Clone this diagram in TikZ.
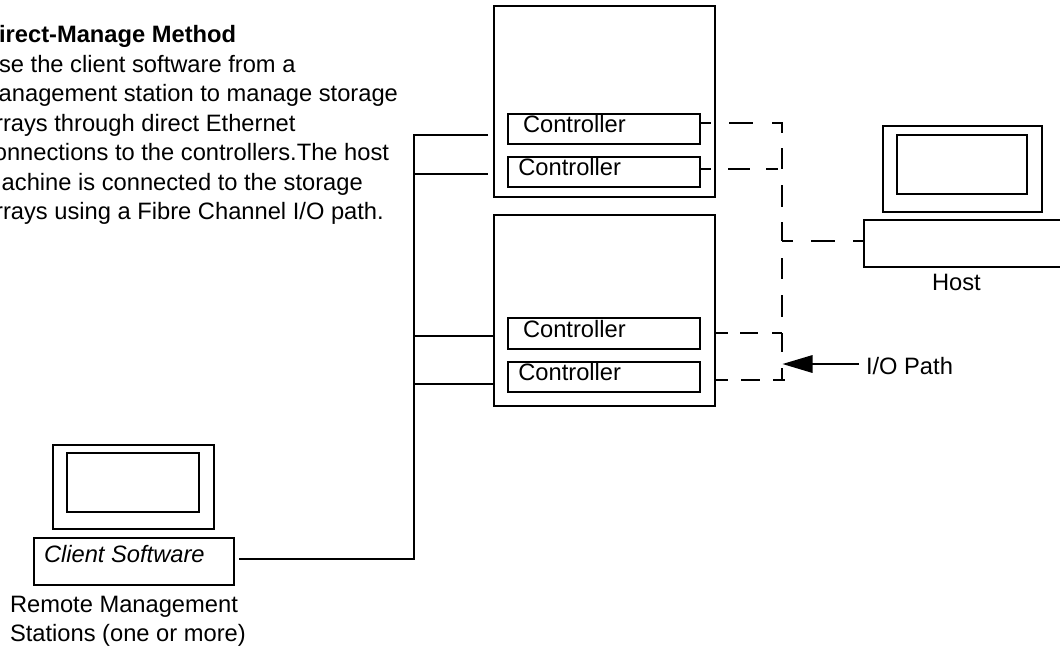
\documentclass[tikz,border=0pt]{standalone}
\usepackage{fontspec}
\setmainfont{Liberation Sans}
\usetikzlibrary{arrows.meta}
\tikzset{
  box/.style={draw=black,line width=1.7pt,inner sep=0pt,outer sep=0pt,fill=none},
  txt/.style={inner sep=0pt,outer sep=0pt,anchor=base west,font=\fontsize{23.7}{29.5}\selectfont,text=black},
  wire/.style={draw=black,line width=1.7pt},
  dashwire/.style={draw=black,line width=1.7pt}
}
\begin{document}
\begin{tikzpicture}[x=1pt,y=-1pt]
\useasboundingbox (0,0) rectangle (1060,651);
% storage arrays
\node[box,minimum width=221pt,minimum height=191pt] (arrayA) at (604.5,101.5) {};
\node[box,minimum width=221pt,minimum height=191pt] (arrayB) at (604.5,310.5) {};
% controllers
\node[box,minimum width=192pt,minimum height=30pt] (ctlA) at (604,129) {};
\node[box,minimum width=192pt,minimum height=30pt] (ctlB) at (604,172) {};
\node[box,minimum width=192pt,minimum height=31pt] (ctlC) at (604,333.5) {};
\node[box,minimum width=192pt,minimum height=30pt] (ctlD) at (604,377) {};
\node[txt] (ctlAt) at (523,132.7) {Controller};
\node[txt] (ctlBt) at (518.3,175.7) {Controller};
\node[txt] (ctlCt) at (523,337) {Controller};
\node[txt] (ctlDt) at (518.3,380.7) {Controller};
% client
\node[box,minimum width=161pt,minimum height=84pt] (cmon) at (133.5,487) {};
\node[box,minimum width=132pt,minimum height=59pt] (cscr) at (133,482.5) {};
\node[box,minimum width=200pt,minimum height=47pt] (cbase) at (134,561.5) {};
\node[txt,font=\fontsize{23.7}{29.5}\selectfont\itshape] (csw) at (44,562) {Client Software};
\node[txt] (rm1) at (10,612.7) {Remote Management};
\node[txt] (rm2) at (10,641) {Stations (one or more)};
% host
\node[box,minimum width=159pt,minimum height=86pt] (hmon) at (962.5,169) {};
\node[box,minimum width=130pt,minimum height=59pt] (hscr) at (962,164.5) {};
\node[box,minimum width=200pt,minimum height=47pt] (hbase) at (964,243.5) {};
\node[txt] (hostl) at (932,290.7) {Host};
\node[txt] (iop) at (866,374) {I/O Path};
% title text
\node[txt,align=left,anchor=north west] (desc) at (-18,25.5) {\textbf{Direct-Manage Method}\\Use the client software from a\\\hspace*{-3pt}management station to manage storage\\arrays through direct Ethernet\\connections to the controllers.The host\\machine is connected to the storage\\arrays using a Fibre Channel I/O path.};
% management bus
\coordinate (busT) at (414,135);
\coordinate (busB) at (414,559);
\coordinate (cstart) at (239,559);
\coordinate (sA) at (488,135);
\coordinate (sB) at (488,174);
\coordinate (jB) at (414,174);
\coordinate (jC) at (414,336);
\coordinate (jD) at (414,384);
\draw[wire] (sA) -- (busT) -- (busB) -- (cstart);
\draw[wire] (jB) -- (sB);
\draw[wire] (jC) -- (arrayB.west |- jC);
\draw[wire] (jD) -- (arrayB.west |- jD);
% I/O path
\coordinate (t1) at (782,123);
\coordinate (t1b) at (782,133);
\coordinate (t2) at (782,169);
\coordinate (t3) at (782,241);
\coordinate (t4) at (782,333);
\coordinate (t5) at (785,380);
\coordinate (tEnd) at (782,380);
\draw[dashwire,dash pattern=on 11pt off 18pt on 24pt off 19pt on 20pt off 30pt] (ctlA.east |- t1) -- (t1) -- (t1b);
\draw[dashwire,dash pattern=on 11pt off 17pt on 22pt off 16pt on 12pt off 10pt] (ctlB.east |- t2) -- (t2);
\draw[dashwire,dash pattern=on 10pt off 15pt on 21pt off 16pt on 22pt off 15pt on 19pt off 17pt on 21pt off 16pt on 22pt off 16pt on 19pt off 16pt on 12pt off 30pt] (t1) -- (tEnd);
\draw[dashwire,dash pattern=on 11pt off 18pt on 24pt off 18pt on 11pt] (t3) -- (hbase.west |- t3);
\draw[dashwire,dash pattern=on 13pt off 12pt on 18pt off 14pt on 10pt] (arrayB.east |- t4) -- (t4);
\draw[dashwire,dash pattern=on 13pt off 13pt on 19pt off 13pt on 12pt] (arrayB.east |- t5) -- (t5);
% arrow
\coordinate (tip) at (782.5,364);
\draw[line width=1.6pt,-{Triangle[length=30pt,width=17.5pt]},shorten <=7pt] (iop.west |- tip) -- (tip);
\end{tikzpicture}
\end{document}
